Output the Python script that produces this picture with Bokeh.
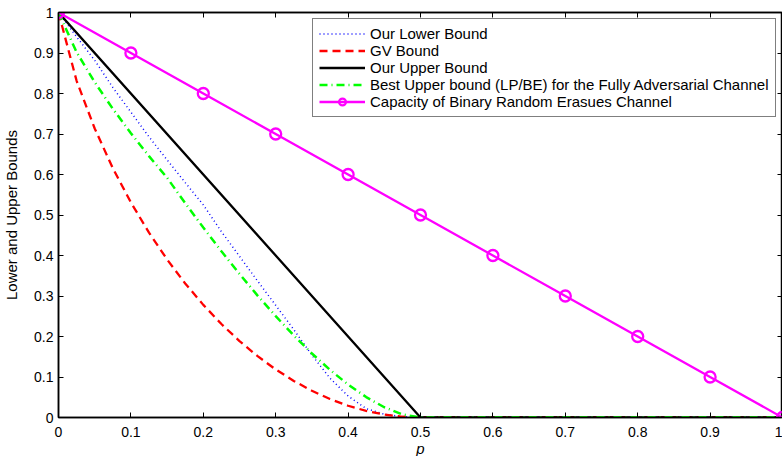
from bokeh.plotting import figure
from bokeh.models import Legend, LegendItem, LinearAxis, FixedTicker, Range1d
from bokeh.embed import file_html
from bokeh.resources import INLINE

# ---- data ----
p_grid = [0, 0.025, 0.05, 0.075, 0.1, 0.125, 0.15, 0.175, 0.2, 0.225, 0.25,
          0.275, 0.3, 0.325, 0.35, 0.375, 0.4, 0.425, 0.45, 0.475, 0.5, 1.0]
our_lower = [1.0, 0.94, 0.882, 0.815, 0.754, 0.693, 0.636, 0.580, 0.525, 0.459, 0.398,
             0.337, 0.277, 0.217, 0.154, 0.097, 0.053, 0.022, 0.008, 0.002, 0.0, 0.0]
gv_bound = [1.0, 0.8313, 0.7136, 0.6157, 0.5310, 0.4564, 0.3902, 0.3310, 0.2781, 0.2308, 0.1887,
            0.1514, 0.1187, 0.0903, 0.0659, 0.0456, 0.0290, 0.0163, 0.0072, 0.0018, 0.0, 0.0]
lp_be = [1.0, 0.902, 0.8279, 0.7622, 0.7019, 0.6454, 0.5918, 0.5294, 0.4690, 0.4106, 0.3546,
         0.3010, 0.2502, 0.2025, 0.1581, 0.1176, 0.0815, 0.0504, 0.0253, 0.0076, 0.0, 0.0]
upper_p = [0, 0.5, 1.0]
our_upper = [1.0, 0.0, 0.0]
cap_p = [0, 0.1, 0.2, 0.3, 0.4, 0.5, 0.6, 0.7, 0.8, 0.9, 1.0]
capacity = [1.0, 0.9, 0.8, 0.7, 0.6, 0.5, 0.4, 0.3, 0.2, 0.1, 0.0]

ticks = [0, 0.1, 0.2, 0.3, 0.4, 0.5, 0.6, 0.7, 0.8, 0.9, 1]
tick_labels = ["0", "0.1", "0.2", "0.3", "0.4", "0.5", "0.6", "0.7", "0.8", "0.9", "1"]

series_names = ["Our Lower Bound", "GV Bound", "Our Upper Bound",
                "Best Upper bound (LP/BE) for the Fully Adversarial Channel",
                "Capacity of Binary Random Erasues Channel"]

FONT = "Liberation Sans"

p = figure(frame_width=724, frame_height=405, output_backend="svg", toolbar_location=None,
           x_range=Range1d(0, 1), y_range=Range1d(0, 1),
           min_border_left=51, min_border_right=0, min_border_top=12, min_border_bottom=37)
p.xgrid.visible = False
p.ygrid.visible = False
p.outline_line_color = "black"
p.outline_line_width = 1.5
p.background_fill_color = "white"
p.border_fill_color = "white"

overrides = dict(zip(ticks, tick_labels))

for ax in (p.xaxis[0], p.yaxis[0]):
    ax.ticker = FixedTicker(ticks=ticks)
    ax.major_label_overrides = overrides
    ax.minor_tick_line_color = None
    ax.major_tick_in = 5
    ax.major_tick_out = 0
    ax.axis_line_width = 1.5
    ax.major_tick_line_width = 1
    ax.major_label_text_font = FONT
    ax.major_label_text_font_size = "14px"
    ax.major_label_text_color = "black"
    ax.axis_label_text_font = FONT
    ax.axis_label_text_font_size = "15px"
    ax.axis_label_text_color = "black"

p.xaxis[0].major_label_standoff = 9
p.yaxis[0].major_label_standoff = 5
p.xaxis[0].axis_label = "p"
p.xaxis[0].axis_label_text_font_style = "italic"
p.xaxis[0].axis_label_standoff = 0
p.yaxis[0].axis_label = "Lower and Upper Bounds"
p.yaxis[0].axis_label_text_font_style = "normal"
p.yaxis[0].axis_label_standoff = 11

for loc in ("above", "right"):
    ax = LinearAxis(ticker=FixedTicker(ticks=ticks),
                    major_label_overrides={t: "" for t in ticks})
    ax.minor_tick_line_color = None
    ax.major_tick_in = 5
    ax.major_tick_out = 0
    ax.axis_line_width = 1.5
    ax.major_label_text_font_size = "1px"
    ax.major_label_standoff = 0
    p.add_layout(ax, loc)

r_lower = p.line(p_grid, our_lower, line_color="#0000ff", line_width=1.5, line_dash="1 3")
r_gv = p.line(p_grid, gv_bound, line_color="#ff0000", line_width=2.3, line_dash="8 5")
r_upper = p.line(upper_p, our_upper, line_color="black", line_width=2.3)
r_lp = p.line(p_grid, lp_be, line_color="#00ff00", line_width=2.5, line_dash="8 4 1 4")
r_cap = p.line(cap_p, capacity, line_color="#ff00ff", line_width=2.3)
r_cap_m = p.scatter(cap_p, capacity, marker="circle", size=11, fill_color=None,
                    line_color="#ff00ff", line_width=2.3)

legend = Legend(items=[
    LegendItem(label=series_names[0], renderers=[r_lower]),
    LegendItem(label=series_names[1], renderers=[r_gv]),
    LegendItem(label=series_names[2], renderers=[r_upper]),
    LegendItem(label=series_names[3], renderers=[r_lp]),
    LegendItem(label=series_names[4], renderers=[r_cap, r_cap_m]),
], location=(254, 300))
legend.label_text_font = FONT
legend.label_text_font_size = "15px"
legend.label_text_color = "black"
legend.glyph_width = 46
legend.glyph_height = 17
legend.label_height = 17
legend.label_standoff = 5
legend.spacing = 0
legend.padding = 6
legend.margin = 0
legend.border_line_color = "black"
legend.border_line_width = 1
legend.background_fill_color = "white"
legend.background_fill_alpha = 1
p.add_layout(legend, "center")

open("out.html", "w").write(file_html(p, INLINE))
